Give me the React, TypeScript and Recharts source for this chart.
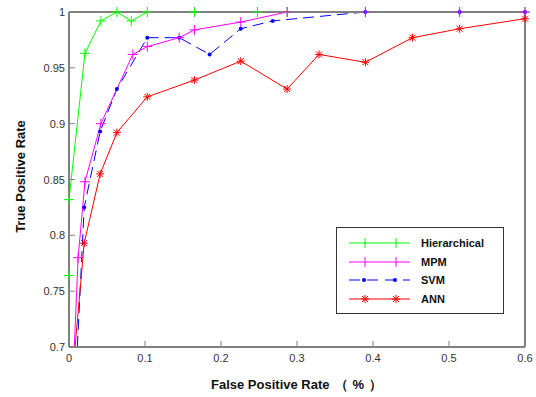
import React from "react";
import {
  LineChart,
  Line,
  XAxis,
  YAxis,
} from "recharts";

// ROC points
const hierarchical = [
  { x: 0, y: 0.7 },
  { x: 0, y: 0.764 },
  { x: 0, y: 0.832 },
  { x: 0.021, y: 0.963 },
  { x: 0.042, y: 0.992 },
  { x: 0.063, y: 1 },
  { x: 0.082, y: 0.992 },
  { x: 0.103, y: 1 },
  { x: 0.165, y: 1 },
  { x: 0.248, y: 1 },
  { x: 0.287, y: 1 },
  { x: 0.39, y: 1 },
  { x: 0.514, y: 1 },
  { x: 0.6, y: 1 },
];

const mpm = [
  { x: 0.007, y: 0.7 },
  { x: 0.012, y: 0.78 },
  { x: 0.021, y: 0.848 },
  { x: 0.042, y: 0.9 },
  { x: 0.084, y: 0.962 },
  { x: 0.103, y: 0.969 },
  { x: 0.145, y: 0.977 },
  { x: 0.165, y: 0.984 },
  { x: 0.226, y: 0.991 },
  { x: 0.287, y: 1 },
  { x: 0.39, y: 1 },
  { x: 0.514, y: 1 },
  { x: 0.6, y: 1 },
];

const svm = [
  { x: 0.011, y: 0.7 },
  { x: 0.02, y: 0.825 },
  { x: 0.041, y: 0.893 },
  { x: 0.063, y: 0.931 },
  { x: 0.103, y: 0.977 },
  { x: 0.145, y: 0.977 },
  { x: 0.185, y: 0.962 },
  { x: 0.226, y: 0.985 },
  { x: 0.268, y: 0.992 },
  { x: 0.39, y: 1 },
  { x: 0.514, y: 1 },
  { x: 0.6, y: 1 },
];

const ann = [
  { x: 0.008, y: 0.7 },
  { x: 0.02, y: 0.793 },
  { x: 0.041, y: 0.855 },
  { x: 0.063, y: 0.892 },
  { x: 0.103, y: 0.924 },
  { x: 0.165, y: 0.939 },
  { x: 0.226, y: 0.956 },
  { x: 0.287, y: 0.931 },
  { x: 0.329, y: 0.962 },
  { x: 0.39, y: 0.955 },
  { x: 0.452, y: 0.977 },
  { x: 0.514, y: 0.985 },
  { x: 0.6, y: 0.994 },
];

const xTicks = [0, 0.1, 0.2, 0.3, 0.4, 0.5, 0.6];
const yTicks = [0.7, 0.75, 0.8, 0.85, 0.9, 0.95, 1];

const AXIS = "#808080";
const FONT = "Arial, 'Liberation Sans', sans-serif";

// the curves enter from below the plot, so no marker sits on the bottom edge
const onEdge = (p: any) => p.cx == null || p.cy == null || (p.payload && p.payload.y <= 0.7);

const crossDot = (color: string) => (p: any) => {
  const { cx, cy, index } = p;
  if (onEdge(p)) return <g key={index} />;
  return (
    <g key={index} stroke={color} strokeWidth={1}>
      <line x1={cx - 5} y1={cy} x2={cx + 5} y2={cy} />
      <line x1={cx} y1={cy - 5} x2={cx} y2={cy + 5} />
    </g>
  );
};

const pointDot = (color: string) => (p: any) => {
  const { cx, cy, index } = p;
  if (onEdge(p)) return <g key={index} />;
  return <circle key={index} cx={cx} cy={cy} r={2} fill={color} stroke="none" />;
};

const starDot = (color: string) => (p: any) => {
  const { cx, cy, index } = p;
  if (onEdge(p)) return <g key={index} />;
  return (
    <g key={index} stroke={color} strokeWidth={1}>
      <line x1={cx - 4} y1={cy} x2={cx + 4} y2={cy} />
      <line x1={cx} y1={cy - 4} x2={cx} y2={cy + 4} />
      <line x1={cx - 3} y1={cy - 3} x2={cx + 3} y2={cy + 3} />
      <line x1={cx - 3} y1={cy + 3} x2={cx + 3} y2={cy - 3} />
    </g>
  );
};

// ticks point inward, like the original plot
const BottomTick = (p: any) => (
  <g>
    <line x1={p.x} y1={p.y - 1} x2={p.x} y2={p.y - 6} stroke={AXIS} />
    <text x={p.x} y={p.y + 15} textAnchor="middle" fontSize={11} fill="#333" fontFamily={FONT}>
      {String(p.payload.value)}
    </text>
  </g>
);

const LeftTick = (p: any) => (
  <g>
    <line x1={p.x + 1} y1={p.y} x2={p.x + 6} y2={p.y} stroke={AXIS} />
    <text x={p.x - 4} y={p.y + 4} textAnchor="end" fontSize={11} fill="#333" fontFamily={FONT}>
      {String(p.payload.value)}
    </text>
  </g>
);

const TopTick = (p: any) => (
  <line x1={p.x} y1={p.y + 1} x2={p.x} y2={p.y + 6} stroke={AXIS} />
);

const RightTick = (p: any) => (
  <line x1={p.x - 1} y1={p.y} x2={p.x - 6} y2={p.y} stroke={AXIS} />
);

const legendItems = [
  { name: "Hierarchical", color: "#00ff00", kind: "cross" },
  { name: "MPM", color: "#ff00ff", kind: "cross" },
  { name: "SVM", color: "#0000ff", kind: "dot" },
  { name: "ANN", color: "#ff0000", kind: "star" },
];

function LegendBox() {
  return (
    <div
      style={{
        position: "absolute",
        left: 336,
        top: 227,
        width: 168,
        height: 87,
        border: "1px solid #333",
        background: "#fff",
        boxSizing: "border-box",
        paddingTop: 6,
      }}
    >
      {legendItems.map((it) => (
        <div key={it.name} style={{ display: "flex", alignItems: "center", height: 18.5 }}>
          <svg width={84} height={12}>
            <line
              x1={12}
              y1={6}
              x2={73}
              y2={6}
              stroke={it.color}
              strokeDasharray={it.kind === "dot" ? "11 7" : undefined}
            />
            {[28, 59].map((cx) =>
              it.kind === "dot" ? (
                <circle key={cx} cx={cx - 1} cy={6} r={2} fill={it.color} />
              ) : it.kind === "star" ? (
                <g key={cx} stroke={it.color}>
                  <line x1={cx - 4} y1={6} x2={cx + 4} y2={6} />
                  <line x1={cx} y1={2} x2={cx} y2={10} />
                  <line x1={cx - 3} y1={3} x2={cx + 3} y2={9} />
                  <line x1={cx - 3} y1={9} x2={cx + 3} y2={3} />
                </g>
              ) : (
                <line key={cx} x1={cx} y1={1} x2={cx} y2={11} stroke={it.color} />
              )
            )}
          </svg>
          <span style={{ fontFamily: FONT, fontWeight: "bold", fontSize: 11, color: "#111" }}>
            {it.name}
          </span>
        </div>
      ))}
    </div>
  );
}

export default function App() {
  return (
    <div style={{ position: "fixed", left: 0, top: 0, width: 536, height: 397, background: "#fff" }}>
      <LineChart width={536} height={397} margin={{ top: 10, right: 9, bottom: 20, left: 29 }}>
        <XAxis
          xAxisId="b"
          type="number"
          dataKey="x"
          domain={[0, 0.6]}
          ticks={xTicks}
          height={30}
          tickSize={0}
          tickMargin={0}
          tickLine={false}
          tick={<BottomTick />}
          axisLine={{ stroke: AXIS, strokeWidth: 2 }}
          interval={0}
        />
        <XAxis
          xAxisId="t"
          orientation="top"
          type="number"
          dataKey="x"
          domain={[0, 0.6]}
          ticks={xTicks}
          height={2}
          tickSize={0}
          tickMargin={0}
          tickLine={false}
          tick={<TopTick />}
          axisLine={{ stroke: AXIS, strokeWidth: 2 }}
          interval={0}
        />
        <YAxis
          yAxisId="l"
          type="number"
          domain={[0.7, 1]}
          ticks={yTicks}
          width={40}
          tickSize={0}
          tickMargin={0}
          tickLine={false}
          tick={<LeftTick />}
          axisLine={{ stroke: AXIS, strokeWidth: 2 }}
          interval={0}
        />
        <YAxis
          yAxisId="r"
          orientation="right"
          type="number"
          domain={[0.7, 1]}
          ticks={yTicks}
          width={2}
          tickSize={0}
          tickMargin={0}
          tickLine={false}
          tick={<RightTick />}
          axisLine={{ stroke: AXIS, strokeWidth: 2 }}
          interval={0}
        />
        <Line
          xAxisId="b"
          yAxisId="l"
          data={hierarchical}
          dataKey="y"
          name="Hierarchical"
          stroke="#00ff00"
          strokeWidth={1}
          dot={crossDot("#00ff00")}
          isAnimationActive={false}
        />
        <Line
          xAxisId="b"
          yAxisId="l"
          data={svm}
          dataKey="y"
          name="SVM"
          stroke="#0000ff"
          strokeWidth={1}
          strokeDasharray="11 6"
          dot={pointDot("#0000ff")}
          isAnimationActive={false}
        />
        <Line
          xAxisId="b"
          yAxisId="l"
          data={mpm}
          dataKey="y"
          name="MPM"
          stroke="#ff00ff"
          strokeWidth={1}
          dot={crossDot("#ff00ff")}
          isAnimationActive={false}
        />
        <Line
          xAxisId="b"
          yAxisId="l"
          data={ann}
          dataKey="y"
          name="ANN"
          stroke="#ff0000"
          strokeWidth={1}
          dot={starDot("#ff0000")}
          isAnimationActive={false}
        />
      </LineChart>
      <LegendBox />
      <div
        style={{
          position: "absolute",
          left: 211,
          top: 376,
          whiteSpace: "nowrap",
          fontFamily: FONT,
          fontWeight: "bold",
          fontSize: 13,
          color: "#111",
        }}
      >
        False Positive Rate
        <span style={{ marginLeft: 5, letterSpacing: 5 }}>（%）</span>
      </div>
      <div
        style={{
          position: "absolute",
          left: 20 - 100,
          top: 178 - 9,
          width: 200,
          textAlign: "center",
          transform: "rotate(-90deg)",
          fontFamily: FONT,
          fontWeight: "bold",
          fontSize: 13,
          color: "#111",
        }}
      >
        True Positive Rate
      </div>
    </div>
  );
}
